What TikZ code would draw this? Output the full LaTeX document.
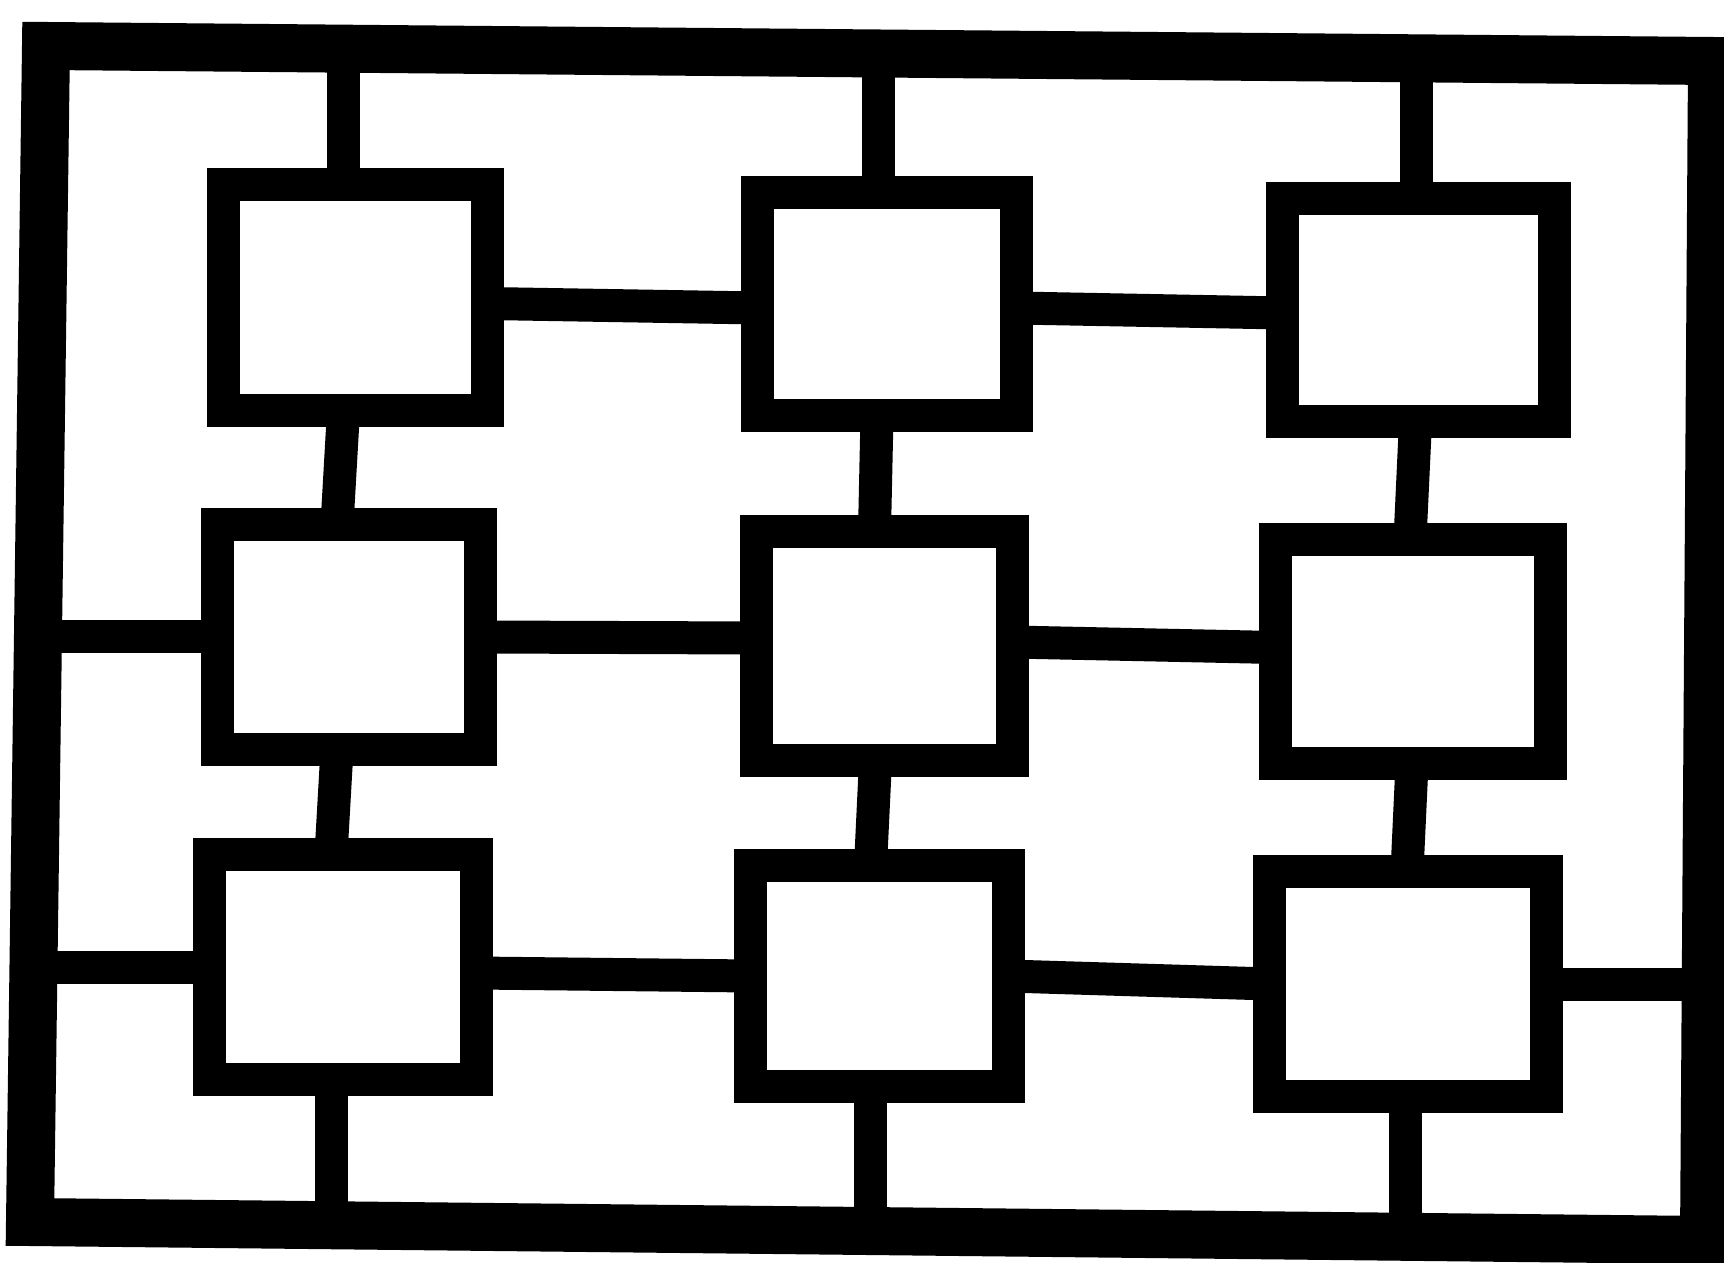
\documentclass[tikz,border=0pt]{standalone}
\usetikzlibrary{calc}
\tikzset{
  box/.style 2 args={draw=black, rectangle, inner sep=0pt, outer sep=0pt,
    line width=13.2pt, minimum width={(#1-33)*0.4pt}, minimum height={(#2-33)*0.4pt}},
  link/.style={draw=black, line width=13.2pt},
  framebox/.style={draw=black, line width=19.2pt, line join=miter}
}
\begin{document}
\begin{tikzpicture}[x=0.4pt, y=-0.4pt]
\useasboundingbox (0,0) rectangle (1724,1263);
\fill[white] (0,0) rectangle (1724,1263);
% frame
\coordinate (ftl) at (46,46);
\coordinate (ftr) at (1712,61);
\coordinate (fbr) at (1704,1240);
\coordinate (fbl) at (30,1222);
\draw[framebox] (ftl) -- (ftr) -- (fbr) -- (fbl) -- cycle;
% boxes
\node[box={297}{259}] (b1) at (355.5,297.5) {};
\node[box={292}{256}] (b2) at (887,304) {};
\node[box={305}{256}] (b3) at (1418.5,310) {};
\node[box={296}{258}] (b4) at (349,637) {};
\node[box={289}{262}] (b5) at (884.5,646) {};
\node[box={308}{257}] (b6) at (1413,651.5) {};
\node[box={300}{258}] (b7) at (343,967) {};
\node[box={291}{254}] (b8) at (879.5,976) {};
\node[box={310}{258}] (b9) at (1408,984) {};
% top connectors to frame
\coordinate (t1) at ($(b1.north)+(-12,0)$);
\coordinate (t2) at ($(b2.north)+(-9,0)$);
\coordinate (t3) at ($(b3.north)+(-2,0)$);
\draw[link] (t1) -- (t1 |- ftl);
\draw[link] (t2) -- (t2 |- ftl);
\draw[link] (t3) -- (t3 |- ftl);
% bottom connectors to frame
\coordinate (d7) at ($(b7.south)+(-12,0)$);
\coordinate (d8) at ($(b8.south)+(-9,0)$);
\coordinate (d9) at ($(b9.south)+(-3,0)$);
\draw[link] (d7) -- (d7 |- fbl);
\draw[link] (d8) -- (d8 |- fbl);
\draw[link] (d9) -- (d9 |- fbl);
% vertical box-to-box
\draw[link] ($(b1.south)+(-12,0)$) -- ($(b4.north)+(-12,0)$);
\draw[link] ($(b4.south)+(-12,0)$) -- ($(b7.north)+(-12,0)$);
\draw[link] ($(b2.south)+(-10,0)$) -- ($(b5.north)+(-10,0)$);
\draw[link] ($(b5.south)+(-9,0)$) -- ($(b8.north)+(-9,0)$);
\draw[link] ($(b3.south)+(-3,0)$) -- ($(b6.north)+(-3,0)$);
\draw[link] ($(b6.south)+(-1,0)$) -- ($(b9.north)+(-1,0)$);
% horizontal box-to-box
\draw[link] ($(b1.east)+(0,6)$) -- ($(b2.west)+(0,4)$);
\draw[link] ($(b2.east)+(0,4)$) -- ($(b3.west)+(0,3)$);
\draw[link] ($(b4.east)+(0,0)$) -- ($(b5.west)+(0,-8)$);
\draw[link] ($(b5.east)+(0,-4)$) -- ($(b6.west)+(0,-4)$);
\draw[link] ($(b7.east)+(0,6)$) -- ($(b8.west)+(0,0)$);
\draw[link] (b8.east) -- (b9.west);
% left connectors to frame
\draw[link] ($(b1.west)+(0,4)$) -- ($(b1.west)+(0,4)$ -| ftl);
\draw[link] (b4.west) -- (b4.west -| ftl);
\draw[link] (b7.west) -- (b7.west -| ftl);
% right connectors to frame
\draw[link] ($(b3.east)+(0,5)$) -- ($(b3.east)+(0,5)$ -| ftr);
\draw[link] ($(b6.east)+(0,-5)$) -- ($(b6.east)+(0,-5)$ -| ftr);
\draw[link] (b9.east) -- (b9.east -| ftr);
\end{tikzpicture}
\end{document}
